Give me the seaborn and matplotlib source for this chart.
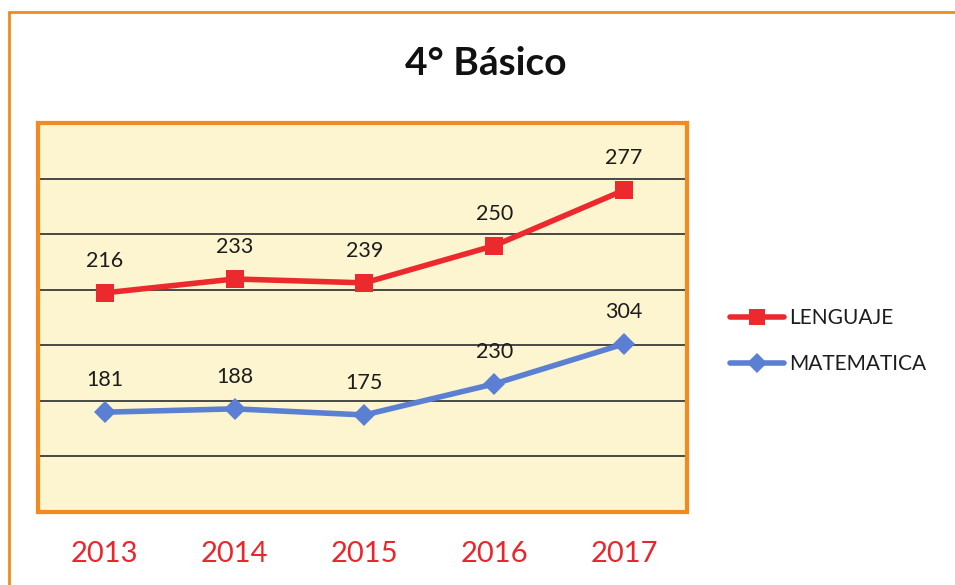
import pandas as pd
import matplotlib
matplotlib.use('Agg')
import matplotlib.pyplot as plt
import seaborn as sns
from matplotlib.lines import Line2D

# Data
years = [2013, 2014, 2015, 2016, 2017]
series_names = ['LENGUAJE', 'MATEMATICA']

# Vertical position of each point (in gridline bands, 0..7, as drawn)
lenguaje_pos = [3.94, 4.19, 4.12, 4.79, 5.79]
matematica_pos = [1.79, 1.85, 1.74, 2.30, 3.02]

# Numbers written above each point
lenguaje_labels = [216, 233, 239, 250, 277]
matematica_labels = [181, 188, 175, 230, 304]

# Build a long table for seaborn
df = pd.DataFrame({
    'Year': years * 2,
    'Pos': lenguaje_pos + matematica_pos,
    'Label': lenguaje_labels + matematica_labels,
    'Subject': ['LENGUAJE'] * 5 + ['MATEMATICA'] * 5,
})

sns.set_style('white')
plt.rcParams['font.family'] = ['Lato', 'DejaVu Sans']

colors = {'LENGUAJE': '#EC2A2E', 'MATEMATICA': '#5B7FD3'}
markers = {'LENGUAJE': 's', 'MATEMATICA': 'D'}
sizes = {'LENGUAJE': 13, 'MATEMATICA': 11.5}

fig = plt.figure(figsize=(9.55, 5.85), dpi=100)
ax = fig.add_axes([0.0398, 0.1256, 0.6796, 0.6641])
ax.set_facecolor('#FCF5D0')

# Horizontal gridlines
for y in range(1, 7):
    ax.axhline(y, color='#3a3a3a', linewidth=1.3, zorder=1)

# Lines with markers
for name in series_names:
    sub = df[df['Subject'] == name]
    sns.lineplot(data=sub, x='Year', y='Pos', ax=ax, color=colors[name],
                 linewidth=4, marker=markers[name], markersize=sizes[name],
                 markeredgewidth=0, zorder=3, legend=False)

# Value labels above points
for _, row in df.iterrows():
    ax.annotate(str(row['Label']), (row['Year'], row['Pos']),
                xytext=(0, 23), textcoords='offset points',
                ha='center', va='center', fontsize=15.5, color='#1c1c1c')

ax.set_xlim(years[0] - 0.515, years[-1] + 0.485)
ax.set_ylim(0, 7)
ax.set_xticks(years)
ax.set_xticklabels([str(y) for y in years], color='#E8262B', fontsize=21)
ax.tick_params(axis='x', length=0, pad=21)
ax.set_yticks([])
ax.set_xlabel('')
ax.set_ylabel('')

# Orange frame around the plot
for side in ax.spines.values():
    side.set_color('#F28A1F')
    side.set_linewidth(3)

# Title
fig.text(0.509, 0.891, '4° Básico', ha='center', va='center',
         fontsize=28, fontweight='bold', color='#111111')

# Legend on the right
handles = [Line2D([0], [0], color=colors[n], linewidth=4, marker=markers[n],
                  markersize=sizes[n] - 1, markeredgewidth=0) for n in series_names]
fig.legend(handles, series_names, loc='center left',
           bbox_to_anchor=(0.745, 0.417), frameon=False, fontsize=15,
           handlelength=2.6, handletextpad=0.25, labelspacing=1.25,
           labelcolor='#1c1c1c')

# Outer orange border (left and top edges visible)
fig.add_artist(Line2D([0.009, 0.009], [0.0, 0.979], color='#F28A1F',
                      linewidth=2, transform=fig.transFigure))
fig.add_artist(Line2D([0.009, 1.0], [0.979, 0.979], color='#F28A1F',
                      linewidth=2, transform=fig.transFigure))

fig.savefig('out.png', dpi=100)
